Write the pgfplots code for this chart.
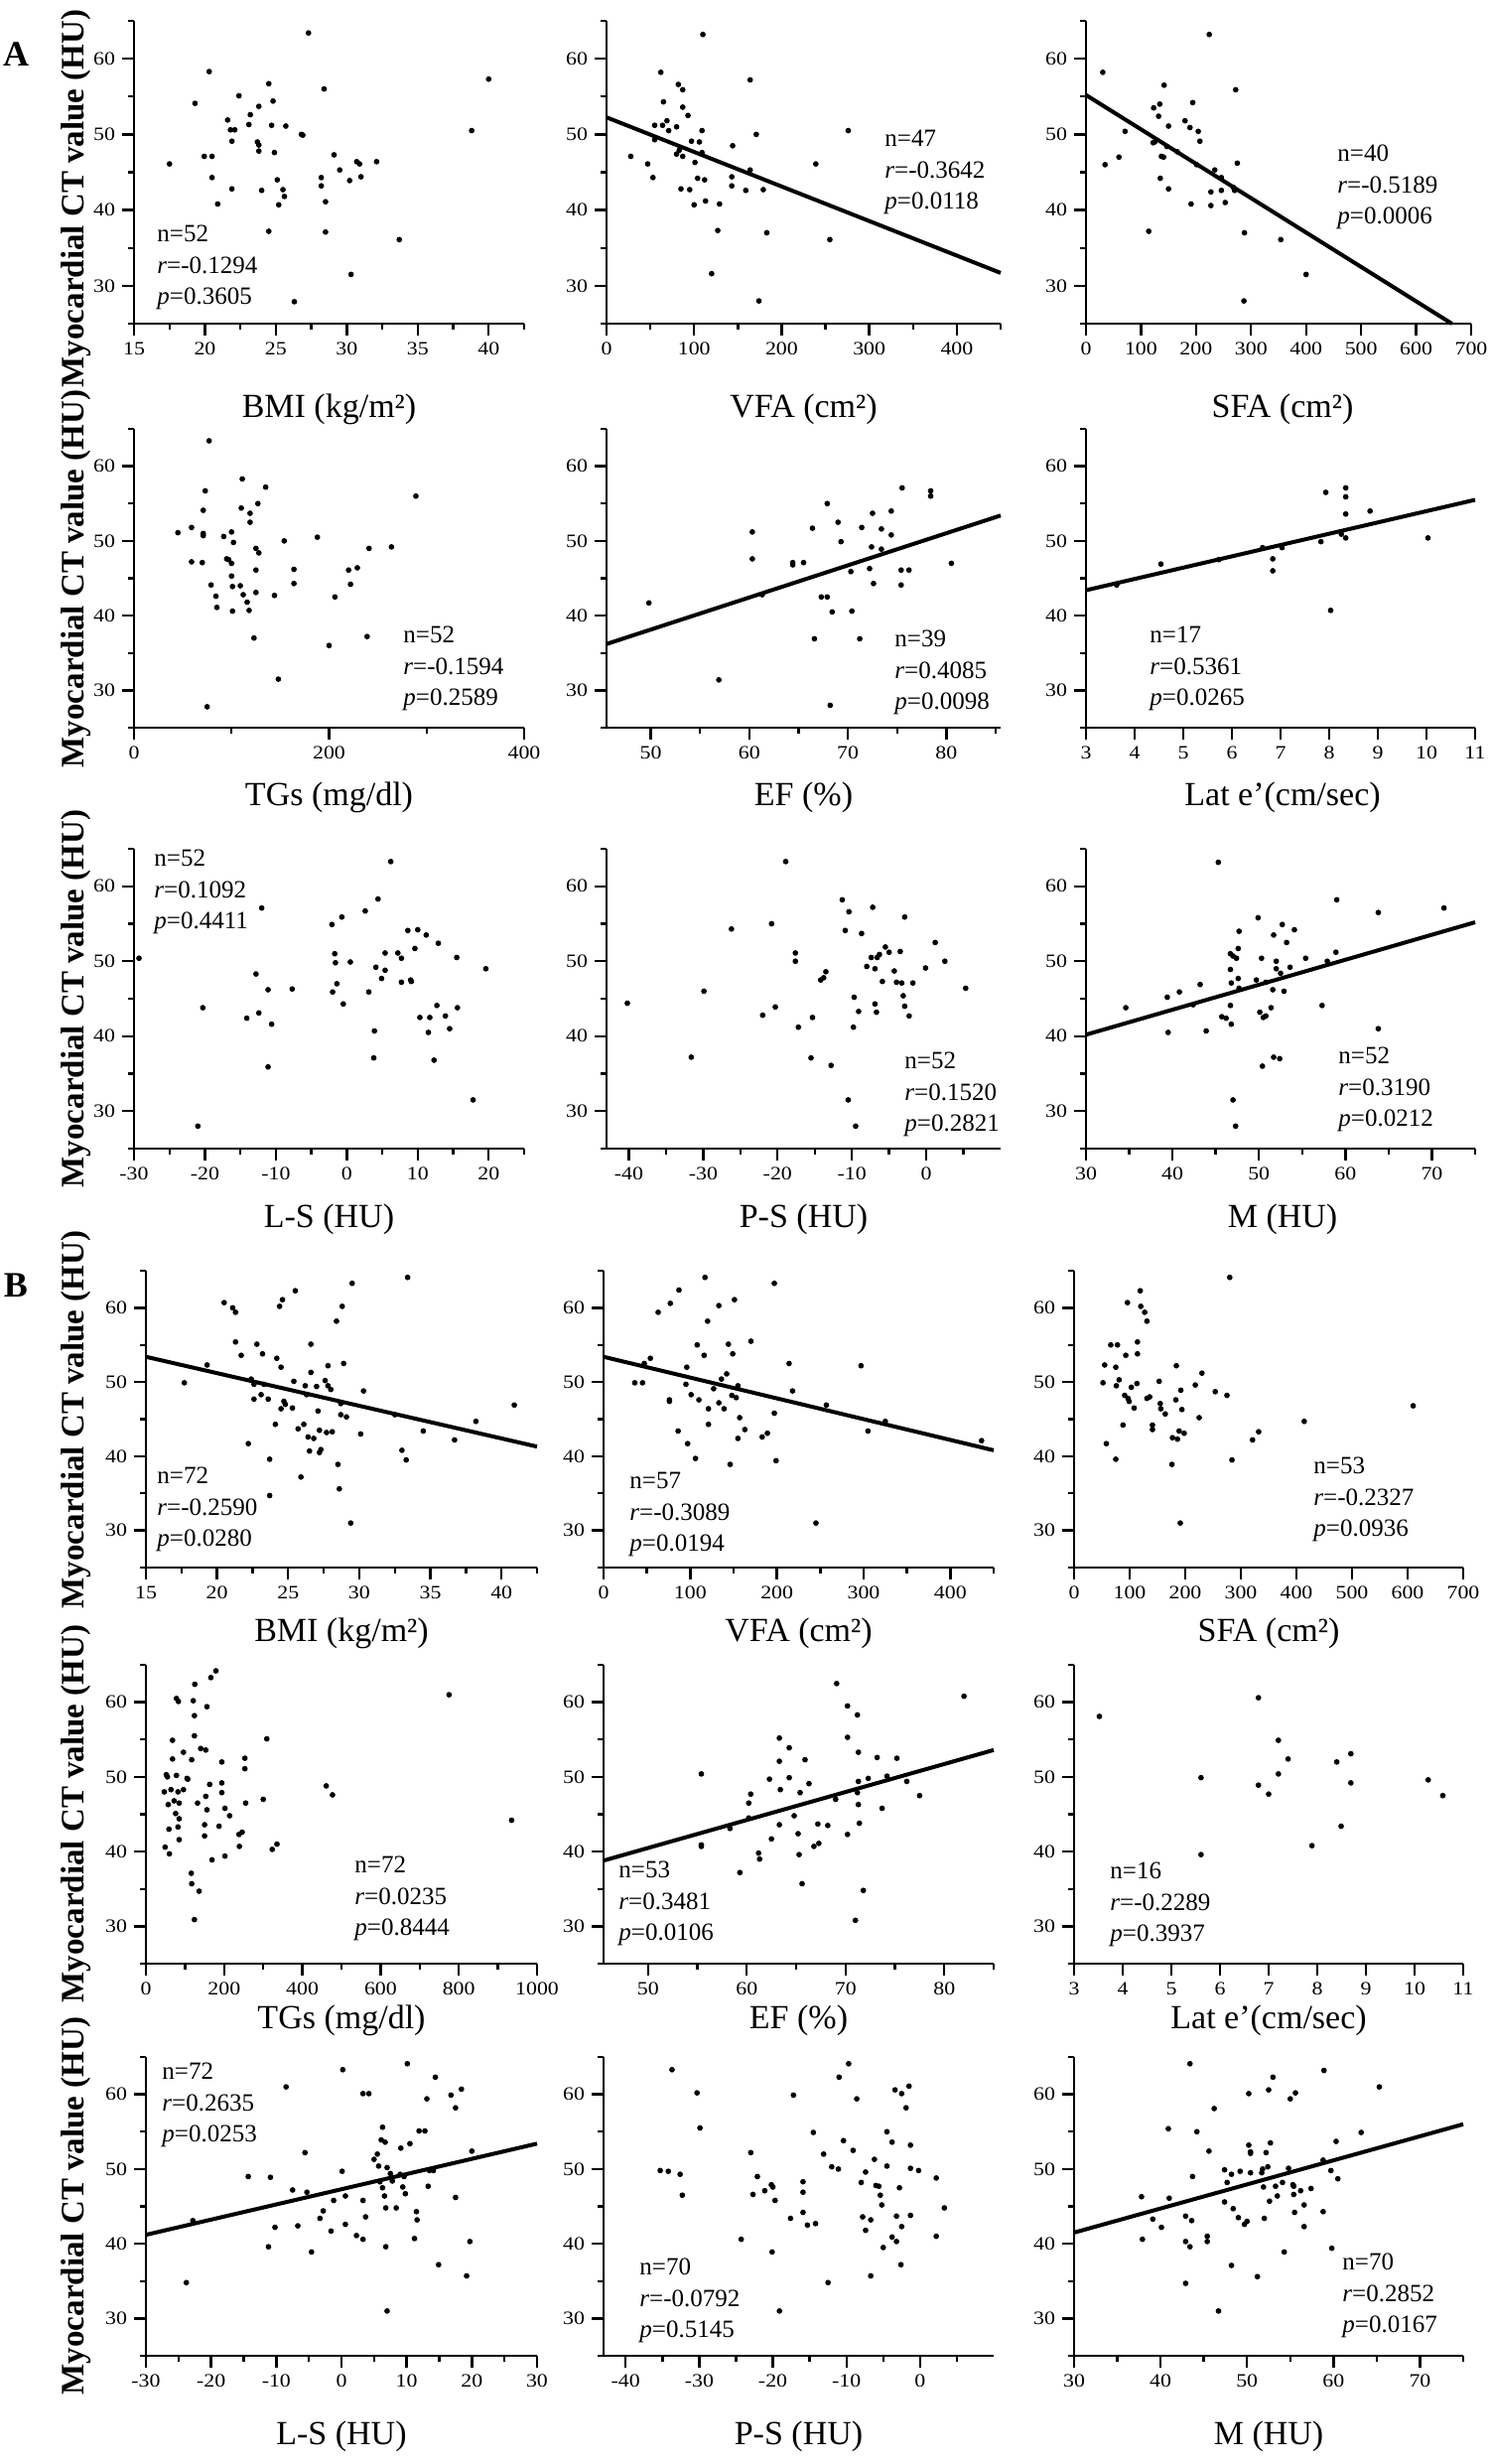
\documentclass[border=0pt]{standalone}
\usepackage{pgfplots}
\pgfplotsset{compat=1.18}
\usepackage{fontspec}
\setmainfont{Liberation Serif}
\usepackage{graphicx}

\pgfplotsset{
  panel/.style={
    scale only axis,
    anchor=south west,
    ymin=25, ymax=65,
    ytick={30,40,50,60},
    minor ytick={25,35,45,55,65},
    axis x line*=bottom,
    axis y line*=left,
    axis line style={-, line width=1.3pt, black},
    tick style={black, line width=1.2pt},
    tick align=outside,
    major tick length=6pt,
    minor tick length=3pt,
    tick label style={font=\fontsize{9.5}{10}\selectfont},
    xticklabel={\scalebox{1.15}[1]{\pgfmathprintnumber[assume math mode=true,1000 sep={}]{\tick}}},
    yticklabel={\scalebox{1.15}[1]{\pgfmathprintnumber[assume math mode=true]{\tick}}},
    clip=false,
  },
  pts/.style={only marks, mark=*, mark size=1.2pt, black},
  fit/.style={no marks, black, line width=2pt},
}
\tikzset{
  st/.style={anchor=mid west, inner sep=0pt, font=\fontsize{12.5}{13}\selectfont},
  xl/.style={inner sep=0pt, font=\fontsize{17}{18}\selectfont},
  yl/.style={inner sep=0pt, rotate=90, font=\fontsize{16.5}{17}\selectfont\bfseries},
}
\newcommand{\stats}[5]{%
  \node[st] at ({#1pt},{#2pt}) {n=#3};
  \node[st] at ({#1pt},{#2pt-15.75pt}) {\textit{r}=#4};
  \node[st] at ({#1pt},{#2pt-31.5pt}) {\textit{p}=#5};
}

\begin{document}
\begin{tikzpicture}
\useasboundingbox (0,0) rectangle (751pt,-1241pt);

% ================= A row 1 =================
\begin{axis}[panel, at={(67.5pt,-163pt)}, width=196.5pt, height=152.5pt,
  xmin=15, xmax=42.5, xtick={15,20,...,40}, minor xtick={17.5,22.5,...,42.5}]
\addplot[pts] coordinates {(17.5,46.1)(19.3,54.1)(20.3,58.3)(19.95,47.1)(20.5,47.1)(20.5,44.3)(20.9,40.8)(21.9,42.8)(21.6,51.9)(21.8,50.6)(22.1,50.6)(21.9,49.1)(22.4,55.1)(23.2,52.6)(23.1,51.3)(23.8,53.7)(23.7,49.0)(23.8,48.6)(23.8,47.8)(24.0,42.6)(24.5,56.7)(24.8,54.4)(24.7,51.2)(24.9,47.6)(24.5,37.2)(25.1,44.0)(25.2,40.7)(25.5,42.7)(25.6,41.8)(25.7,51.1)(26.3,27.9)(26.8,50.0)(26.9,49.9)(27.3,63.4)(28.2,44.3)(28.2,43.2)(28.4,56.0)(28.5,41.1)(28.5,37.1)(29.1,47.3)(29.5,45.3)(30.2,43.9)(30.7,46.4)(30.9,46.1)(31.0,44.4)(30.3,31.5)(32.1,46.4)(33.7,36.1)(38.8,50.5)(40.0,57.3)};
\end{axis}

\begin{axis}[panel, at={(305.5pt,-163pt)}, width=198.5pt, height=152.5pt,
  xmin=0, xmax=450, xtick={0,100,...,400}, minor xtick={50,150,...,450}]
\addplot[pts] coordinates {(27.7,47.1)(47,46.1)(53,44.3)(55,51.2)(55,49.3)(62,58.2)(65,54.3)(64,51.2)(69,51.8)(71,50.5)(80,51.0)(82,56.6)(87,55.9)(87,53.6)(93,52.5)(80,47.4)(83,47.9)(87,47.1)(85,42.8)(95,42.7)(97,49.1)(101,46.3)(100,40.7)(104,44.2)(106,49.0)(109,47.6)(110,63.2)(109,50.5)(112,44.0)(113,41.2)(120,31.6)(129,40.8)(127,37.3)(144,48.5)(143,44.4)(143,43.2)(159,42.6)(164,45.3)(164,57.2)(171,50.0)(179,42.7)(183,37.0)(174,28.0)(239,46.1)(255,36.1)(276,50.5)};
\addplot[fit] coordinates {(0,52.25)(450,31.7)};
\end{axis}

\begin{axis}[panel, at={(547pt,-163pt)}, width=194pt, height=152.5pt,
  xmin=0, xmax=700, xtick={0,100,...,700}]
\addplot[pts] coordinates {(30.5,58.2)(34.6,46.0)(59.9,47.0)(71,50.4)(114,37.2)(123,53.5)(134,54.0)(132,52.4)(142,56.5)(150,51.1)(122,48.9)(125,49.0)(137,47.1)(141,47.0)(135,44.2)(150,42.8)(147,48.4)(166,47.7)(180,51.8)(189,50.9)(194,54.2)(204,50.4)(207,49.1)(191,40.8)(201,46.0)(224,63.2)(227,42.4)(227,40.6)(234,45.3)(246,44.3)(246,42.6)(253,41.0)(270,42.6)(272,55.9)(275,46.2)(288,37.0)(287,28.0)(354,36.1)(400,31.5)(268,43.0)};
\addplot[fit] coordinates {(0,55.2)(665,25.0)};
\end{axis}

% ================= A row 2 =================
\begin{axis}[panel, at={(67.5pt,-366.5pt)}, width=196.5pt, height=150.5pt,
  xmin=0, xmax=400, xtick={0,200,400}, minor xtick={100,300}]
\addplot[pts] coordinates {(45,51.1)(59,51.8)(59,47.2)(70,47.1)(71,51.0)(71,50.7)(71,54.1)(73,56.7)(77,63.4)(79,44.1)(84,42.6)(85,41.1)(92,50.6)(95,47.6)(97,47.5)(100,47.0)(100,45.3)(100,51.2)(102,49.8)(101,43.9)(101,40.6)(109,44.0)(111,58.3)(110,54.4)(112,42.8)(116,41.8)(118,40.7)(119,53.7)(119,52.5)(123,37.0)(125,46.1)(125,49.0)(127,55.0)(128,48.4)(125,43.1)(135,57.2)(144,42.7)(148,31.5)(154,50.0)(164,46.2)(164,44.3)(188,50.5)(200,36.0)(206,42.5)(220,46.1)(222,44.2)(229,46.4)(239,37.2)(241,49.0)(264,49.2)(289,56.0)(75,27.8)};
\end{axis}

\begin{axis}[panel, at={(305.5pt,-366.5pt)}, width=198.5pt, height=150.5pt,
  xmin=45.5, xmax=85.5, xtick={50,60,70,80}, minor xtick={55,65,75,85}]
\addplot[pts] coordinates {(49.8,41.7)(56.9,31.4)(60.3,51.2)(60.3,47.6)(61.3,42.8)(64.4,47.1)(64.4,46.8)(65.5,47.1)(66.4,51.7)(66.6,36.9)(67.3,42.5)(67.9,42.5)(67.9,55.0)(68.4,40.5)(69.0,52.5)(69.3,49.9)(70.3,45.9)(70.4,40.6)(71.2,36.9)(71.4,51.8)(72.2,46.3)(72.4,49.2)(72.5,53.7)(72.6,44.3)(73.4,51.6)(73.4,48.9)(74.4,54.0)(74.4,50.8)(75.5,57.1)(75.4,46.1)(75.4,44.1)(76.2,46.1)(78.4,56.7)(78.4,56.0)(80.5,47.0)(68.2,28.0)};
\addplot[fit] coordinates {(45.5,36.2)(85.5,53.4)};
\end{axis}

\begin{axis}[panel, at={(547pt,-366.5pt)}, width=196pt, height=150.5pt,
  xmin=3, xmax=11, xtick={3,4,...,11}]
\addplot[pts] coordinates {(3.63,44.1)(4.54,46.9)(5.73,47.5)(6.63,49.1)(6.84,47.6)(6.84,46.0)(7.03,49.1)(7.83,49.9)(7.93,56.5)(8.03,40.7)(8.25,50.9)(8.34,50.4)(8.34,53.6)(8.34,55.9)(8.34,57.1)(8.84,54.0)(10.03,50.4)};
\addplot[fit] coordinates {(3,43.4)(11,55.5)};
\end{axis}

% ================= A row 3 =================
\begin{axis}[panel, at={(67.5pt,-578.5pt)}, width=196.5pt, height=151pt,
  xmin=-30, xmax=25, xtick={-30,-20,...,20}, minor xtick={-25,-15,...,25}]
\addplot[pts] coordinates {(-29.3,50.4)(-20.3,43.8)(-14.1,42.4)(-12.8,48.3)(-12.0,57.1)(-12.4,43.1)(-11.1,46.2)(-10.6,41.6)(-11.1,35.9)(-7.7,46.3)(-2.1,54.9)(-1.7,51.0)(-1.6,49.8)(-2.0,45.9)(-1.4,47.0)(-0.7,55.9)(-0.5,44.3)(0.5,49.9)(3.1,45.9)(2.6,56.7)(3.9,40.7)(3.8,37.1)(4.4,58.3)(4.1,49.2)(4.9,47.7)(5.4,51.1)(5.4,48.8)(6.2,63.3)(7.2,51.1)(7.7,50.4)(7.7,47.2)(9.0,47.5)(9.1,47.3)(8.6,54.1)(9.6,51.7)(10.0,54.2)(11.2,53.5)(10.3,42.5)(11.7,42.5)(11.5,40.5)(12.3,36.8)(12.9,52.4)(12.7,44.1)(13.9,42.7)(14.5,41.0)(15.5,50.5)(15.6,43.8)(19.6,49.0)(-21,28.0)(17.8,31.5)};
\end{axis}

\begin{axis}[panel, at={(305.5pt,-578.5pt)}, width=198.5pt, height=151pt,
  xmin=-43, xmax=10, xtick={-40,-30,...,0}, minor xtick={-35,-25,...,5}]
\addplot[pts] coordinates {(-40.2,44.4)(-31.6,37.2)(-29.9,46.0)(-26.2,54.3)(-22.0,42.8)(-20.8,55.0)(-20.3,43.9)(-18.9,63.3)(-17.2,41.2)(-17.6,51.1)(-17.6,50.0)(-15.5,37.1)(-15.3,42.5)(-14.2,47.5)(-13.5,48.6)(-13.8,47.8)(-12.8,36.1)(-11.3,58.2)(-10.9,54.1)(-10.4,56.6)(-9.8,41.2)(-9.1,43.3)(-9.7,45.2)(-8.7,53.7)(-8.0,49.3)(-7.4,50.5)(-6.9,49.0)(-6.9,44.3)(-6.7,43.2)(-7.2,57.2)(-6.6,50.5)(-6.3,50.9)(-5.9,47.3)(-5.5,51.9)(-5.0,51.2)(-4.3,48.7)(-4.0,47.2)(-3.5,51.3)(-3.3,47.1)(-3.1,45.4)(-2.9,44.0)(-2.9,55.9)(-2.3,42.7)(-1.8,47.1)(-0.1,49.1)(1.2,52.5)(2.5,50.0)(5.3,46.4)(-10.5,31.5)(-9.5,28.0)};
\end{axis}

\begin{axis}[panel, at={(547pt,-578.5pt)}, width=196pt, height=151pt,
  xmin=30, xmax=75, xtick={30,40,...,70}, minor xtick={35,45,...,75}]
\addplot[pts] coordinates {(34.6,43.8)(39.4,45.2)(39.5,40.5)(40.8,45.9)(42.4,44.2)(43.2,46.9)(43.9,40.7)(45.3,63.2)(45.7,42.6)(46.2,42.4)(46.8,41.6)(46.7,44.1)(46.7,48.9)(46.7,51.0)(47.0,50.7)(46.8,47.1)(47.4,50.4)(47.6,51.7)(47.7,54.0)(47.6,47.7)(47.7,46.4)(49.9,55.8)(49.7,47.5)(50.1,43.2)(50.3,50.4)(50.5,42.5)(50.8,42.7)(50.8,47.2)(51.4,43.8)(51.6,46.2)(51.7,53.5)(52.0,50.0)(52.0,49.0)(52.5,48.4)(52.9,46.0)(51.7,37.2)(52.4,37.0)(52.7,54.9)(53.2,52.5)(53.6,49.2)(54.1,54.2)(55.4,50.4)(57.3,44.1)(57.9,50.0)(58.9,51.2)(59.0,58.2)(63.8,56.5)(63.8,41.0)(71.4,57.1)(50.4,36.0)(47.0,31.5)(47.3,28.0)};
\addplot[fit] coordinates {(30,40.2)(75,55.2)};
\end{axis}

% ================= B row 1 =================
\begin{axis}[panel, at={(73.5pt,-789.5pt)}, width=197pt, height=149.5pt,
  xmin=15, xmax=42.5, xtick={15,20,...,40}, minor xtick={17.5,22.5,...,42.5}]
\addplot[pts] coordinates {(17.7,49.9)(19.3,52.3)(20.5,60.7)(21.1,60.0)(21.3,59.4)(21.3,55.4)(21.7,53.6)(22.2,41.7)(22.4,50.4)(22.6,49.7)(22.6,47.7)(22.8,55.1)(23.1,48.3)(23.2,53.8)(23.3,49.7)(23.6,47.7)(23.7,39.6)(23.7,34.7)(24.1,44.3)(24.2,53.2)(24.5,52.0)(24.5,46.4)(24.4,60.2)(24.6,61.1)(24.7,47.4)(24.8,47.0)(25.3,46.5)(25.4,50.1)(25.5,62.3)(25.7,43.7)(25.9,37.2)(26.1,44.3)(26.2,49.5)(26.3,48.3)(26.4,42.6)(26.5,40.7)(26.6,55.1)(26.6,51.3)(26.8,42.4)(27.0,49.4)(27.1,46.1)(27.2,43.5)(27.2,40.5)(27.3,40.9)(27.7,43.2)(27.6,50.2)(27.8,52.2)(27.8,49.5)(28.0,49.0)(28.1,43.3)(28.4,58.2)(28.5,38.9)(28.6,35.6)(28.7,47.1)(28.7,45.6)(28.8,60.2)(28.9,52.5)(29.1,45.3)(29.4,31.0)(29.5,63.3)(30.1,43.0)(30.3,48.8)(32.5,45.6)(33.0,40.8)(33.3,39.5)(33.4,64.1)(34.5,43.4)(36.7,42.2)(38.2,44.7)(40.9,46.9)};
\addplot[fit] coordinates {(15,53.4)(42.5,41.3)};
\end{axis}

\begin{axis}[panel, at={(304pt,-789.5pt)}, width=196.5pt, height=149.5pt,
  xmin=0, xmax=450, xtick={0,100,...,400}, minor xtick={50,150,...,450}]
\addplot[pts] coordinates {(36,49.9)(45,49.9)(47,52.5)(54,53.2)(63,59.4)(77,60.6)(87,62.4)(76,47.6)(76,47.4)(86,43.4)(96,52.0)(95,49.7)(97,41.7)(101,48.3)(106,39.7)(108,55.0)(110,47.6)(116,53.6)(117,64.1)(120,58.2)(121,46.4)(121,44.3)(127,49.1)(133,60.3)(133,47.2)(136,50.4)(139,46.4)(142,51.1)(144,55.1)(146,38.9)(148,48.2)(149,53.8)(151,61.1)(153,47.9)(155,49.5)(157,45.2)(155,42.4)(163,43.6)(170,55.5)(183,42.6)(189,43.1)(197,63.3)(197,45.8)(199,39.4)(214,52.5)(218,48.8)(257,46.9)(245,31.0)(297,52.2)(305,43.4)(325,44.7)(436,42.1)};
\addplot[fit] coordinates {(0,53.4)(450,40.8)};
\end{axis}

\begin{axis}[panel, at={(541pt,-789.5pt)}, width=196pt, height=149.5pt,
  xmin=0, xmax=700, xtick={0,100,...,700}]
\addplot[pts] coordinates {(52,49.9)(55,52.3)(58,41.7)(66,55.0)(75,39.6)(75,52.0)(76,49.5)(78,55.0)(81,50.3)(88,44.2)(91,48.2)(93,53.6)(96,60.7)(97,47.8)(99,47.4)(103,49.3)(108,46.5)(113,49.8)(114,53.8)(114,55.4)(119,62.3)(120,60.2)(127,59.4)(131,58.2)(131,47.8)(136,48.0)(141,44.2)(141,43.6)(153,50.1)(155,47.1)(156,46.4)(164,45.7)(176,38.9)(177,42.5)(183,47.6)(184,52.2)(186,42.3)(189,43.4)(191,31.0)(192,48.9)(194,46.3)(198,43.1)(218,49.6)(225,45.2)(230,51.2)(254,48.7)(275,48.2)(280,64.1)(284,39.5)(321,42.2)(332,43.3)(414,44.7)(610,46.8)};
\end{axis}

% ================= B row 2 =================
\begin{axis}[panel, at={(73.5pt,-989pt)}, width=197pt, height=150.5pt,
  xmin=0, xmax=1000, xtick={0,200,...,1000}, minor xtick={100,300,...,900}]
\addplot[pts] coordinates {(47,48.0)(49,40.6)(52,50.3)(55,50.0)(57,46.3)(59,43.0)(60,39.7)(64,48.3)(68,54.9)(68,52.4)(72,46.8)(76,45.1)(78,60.5)(78,50.2)(82,48.0)(83,60.1)(82,43.3)(85,41.6)(85,44.4)(85,46.5)(96,53.3)(96,48.3)(105,49.8)(107,49.7)(117,52.3)(116,37.1)(117,35.7)(121,60.2)(124,58.2)(124,55.5)(124,30.9)(125,62.4)(132,46.5)(136,34.7)(140,53.8)(150,42.1)(150,43.6)(153,53.6)(156,45.6)(156,59.4)(153,47.4)(163,49.0)(166,63.3)(169,38.9)(179,64.2)(187,43.4)(194,52.0)(194,49.2)(194,47.9)(202,39.4)(202,45.8)(214,44.8)(238,42.3)(239,40.7)(246,42.6)(253,52.5)(253,51.1)(255,46.5)(300,47.0)(309,55.1)(323,40.3)(335,41.0)(461,48.8)(477,47.6)(775,61.0)(935,44.2)};
\end{axis}

\begin{axis}[panel, at={(304pt,-989pt)}, width=196.5pt, height=150.5pt,
  xmin=45.5, xmax=85, xtick={50,60,70,80}, minor xtick={55,65,75,85}]
\addplot[pts] coordinates {(55.4,50.4)(55.4,40.9)(55.4,40.7)(58.3,43.1)(59.3,37.2)(60.2,46.5)(60.4,47.7)(61.2,39.8)(61.3,39.0)(60.2,44.5)(62.3,49.7)(62.5,41.7)(63.3,52.1)(63.3,55.2)(63.4,48.3)(63.3,43.6)(64.3,49.9)(64.3,53.9)(64.8,44.8)(65.2,42.4)(65.3,39.6)(65.4,47.9)(65.6,35.7)(65.9,52.3)(66.3,49.1)(66.8,40.7)(67.2,43.7)(67.3,41.1)(68.2,43.5)(69.0,47.0)(69.1,62.5)(70.2,55.3)(70.2,59.5)(70.2,42.3)(71.0,30.8)(71.2,47.9)(71.2,58.3)(71.3,46.3)(71.3,53.3)(71.4,43.8)(71.8,34.8)(71.3,49.4)(73.2,52.6)(73.7,45.8)(72.3,49.8)(74.2,50.1)(75.2,52.5)(76.2,49.4)(77.5,47.5)(82.0,60.8)};
\addplot[fit] coordinates {(45.5,38.8)(85,53.6)};
\end{axis}

\begin{axis}[panel, at={(541pt,-989pt)}, width=196pt, height=150.5pt,
  xmin=3, xmax=11, xtick={3,4,...,11}]
\addplot[pts] coordinates {(3.52,58.1)(5.61,49.9)(5.61,39.6)(6.79,60.6)(6.79,48.9)(7.00,47.7)(7.20,54.9)(7.20,50.4)(7.40,52.4)(7.89,40.8)(8.40,52.0)(8.49,43.4)(8.69,53.1)(8.69,49.2)(10.28,49.6)(10.58,47.5)};
\end{axis}

% ================= B row 3 =================
\begin{axis}[panel, at={(73.5pt,-1186.5pt)}, width=197pt, height=150.5pt,
  xmin=-30, xmax=30, xtick={-30,-20,...,30}, minor xtick={-25,-15,...,25}]
\addplot[pts] coordinates {(-23.8,34.8)(-22.8,43.1)(-14.3,49.0)(-11.2,39.6)(-10.9,48.9)(-10.2,42.2)(-8.5,61.0)(-7.5,47.2)(-6.7,42.4)(-5.6,52.2)(-5.3,46.9)(-4.6,38.9)(-3.3,43.4)(-2.8,44.4)(-1.6,41.7)(-1.2,45.8)(0.1,49.7)(0.2,63.3)(0.6,46.4)(0.6,42.6)(2.3,41.1)(3.3,60.1)(3.3,45.8)(3.3,40.6)(4.2,60.1)(3.7,43.6)(5.0,51.3)(5.5,52.0)(5.7,50.4)(5.9,48.3)(6.1,53.9)(6.3,55.6)(6.6,46.4)(6.7,53.6)(6.8,44.8)(6.8,39.6)(7.0,31.0)(7.5,49.4)(7.8,48.4)(8.4,44.8)(9.0,49.3)(9.1,52.8)(9.4,47.6)(9.6,49.0)(9.8,46.7)(10.1,64.1)(10.5,53.4)(11.2,40.7)(11.5,44.3)(11.6,43.2)(11.9,55.1)(12.8,55.1)(13.1,59.4)(13.3,47.7)(13.5,49.8)(14.1,49.8)(14.4,62.3)(14.9,37.2)(16.8,59.9)(17.5,46.2)(17.5,58.2)(18.4,60.7)(19.2,35.7)(19.7,40.3)(20.0,52.4)(6.3,47.5)(7.0,50.2)};
\addplot[fit] coordinates {(-30,41.2)(30,53.4)};
\end{axis}

\begin{axis}[panel, at={(304pt,-1186.5pt)}, width=196.5pt, height=150.5pt,
  xmin=-43, xmax=10, xtick={-40,-30,...,0}, minor xtick={-35,-25,...,5}]
\addplot[pts] coordinates {(-35.3,49.8)(-34.2,49.7)(-33.7,63.3)(-32.6,49.3)(-32.3,46.5)(-30.3,60.2)(-29.9,55.5)(-24.3,40.6)(-23.0,52.2)(-22.7,46.6)(-22.1,49.0)(-21.1,47.1)(-20.2,47.9)(-20.0,47.6)(-20.1,38.9)(-19.7,45.8)(-19.1,31.0)(-17.6,43.4)(-17.2,59.9)(-15.9,48.3)(-15.9,46.9)(-15.9,44.2)(-15.3,42.5)(-14.5,54.9)(-14.2,42.7)(-13.1,52.0)(-12.5,34.8)(-12.0,50.3)(-11.1,50.0)(-11.0,62.3)(-10.4,53.8)(-9.7,64.1)(-9.1,52.5)(-8.6,59.4)(-8.0,48.2)(-7.8,43.6)(-7.4,49.6)(-7.4,41.8)(-6.7,35.7)(-6.7,43.2)(-6.2,51.3)(-6.0,47.8)(-5.6,47.7)(-5.4,46.5)(-5.2,45.2)(-5.0,39.5)(-4.5,55.0)(-4.5,50.4)(-3.8,53.6)(-3.8,40.9)(-3.4,60.6)(-3.2,43.7)(-3.2,40.3)(-2.8,47.5)(-2.6,37.2)(-2.5,60.1)(-2.5,42.3)(-1.9,58.2)(-1.5,61.1)(-1.3,53.2)(-1.3,50.1)(-1.3,43.8)(-0.2,49.8)(2.2,48.8)(2.2,41.0)(3.3,44.8)};
\end{axis}

\begin{axis}[panel, at={(541pt,-1186.5pt)}, width=196pt, height=150.5pt,
  xmin=30, xmax=75, xtick={30,40,...,70}, minor xtick={35,45,...,75}]
\addplot[pts] coordinates {(37.8,46.3)(37.9,40.6)(39.1,43.3)(40.1,42.2)(40.9,55.4)(41.0,46.1)(42.9,43.7)(42.9,34.7)(42.9,40.3)(43.4,64.1)(43.4,39.6)(43.6,43.1)(43.7,49.0)(44.2,55.0)(45.4,40.3)(45.4,41.0)(45.6,52.4)(46.2,58.1)(46.7,31.0)(47.4,49.9)(47.4,45.6)(47.7,48.2)(48.2,37.1)(48.2,49.3)(48.4,44.7)(49.0,43.5)(49.2,49.7)(49.7,42.6)(50.0,43.0)(50.2,53.2)(50.4,52.1)(50.4,52.3)(50.2,60.1)(50.4,49.5)(51.2,35.6)(51.7,49.5)(51.8,50.0)(51.9,47.6)(52.0,43.4)(52.2,52.2)(52.4,50.3)(52.5,60.6)(52.6,45.7)(52.7,53.5)(53.0,62.3)(53.3,47.7)(53.5,46.4)(54.1,48.2)(54.3,38.9)(54.8,50.1)(55.0,59.4)(55.3,47.9)(55.4,46.6)(55.4,47.7)(55.5,44.2)(55.6,60.2)(56.2,47.1)(56.6,42.3)(56.6,45.2)(57.4,47.4)(58.8,51.2)(58.8,44.3)(58.9,63.2)(59.7,49.8)(59.8,39.4)(60.3,53.7)(60.5,48.7)(63.2,54.9)(65.3,61.0)};
\addplot[fit] coordinates {(30,41.5)(75,56.0)};
\end{axis}

% ================= labels =================
\node[font=\fontsize{18}{19}\selectfont\bfseries, inner sep=0pt] at (8pt,-27.5pt) {A};
\node[font=\fontsize{18}{19}\selectfont\bfseries, inner sep=0pt] at (8pt,-647.5pt) {B};

\node[yl] at (38.5pt,-100pt) {Myocardial CT value (HU)};
\node[yl] at (38.5pt,-291.5pt) {Myocardial CT value (HU)};
\node[yl] at (38.5pt,-503pt) {Myocardial CT value (HU)};
\node[yl] at (38.5pt,-715pt) {Myocardial CT value (HU)};
\node[yl] at (38.5pt,-913.5pt) {Myocardial CT value (HU)};
\node[yl] at (38.5pt,-1111pt) {Myocardial CT value (HU)};

\node[xl] at (165.75pt,-206pt) {BMI (kg/m²)};
\node[xl] at (404.75pt,-206pt) {VFA (cm²)};
\node[xl] at (646pt,-206pt) {SFA (cm²)};
\node[xl] at (165.75pt,-401.5pt) {TGs (mg/dl)};
\node[xl] at (404.75pt,-401.5pt) {EF (\%)};
\node[xl] at (646pt,-401.5pt) {Lat e’(cm/sec)};
\node[xl] at (165.75pt,-614pt) {L-S (HU)};
\node[xl] at (404.75pt,-614pt) {P-S (HU)};
\node[xl] at (646pt,-614pt) {M (HU)};
\node[xl] at (172pt,-822.5pt) {BMI (kg/m²)};
\node[xl] at (402.25pt,-822.5pt) {VFA (cm²)};
\node[xl] at (639pt,-822.5pt) {SFA (cm²)};
\node[xl] at (172pt,-1017.5pt) {TGs (mg/dl)};
\node[xl] at (402.25pt,-1017.5pt) {EF (\%)};
\node[xl] at (639pt,-1017.5pt) {Lat e’(cm/sec)};
\node[xl] at (172pt,-1227pt) {L-S (HU)};
\node[xl] at (402.25pt,-1227pt) {P-S (HU)};
\node[xl] at (639pt,-1227pt) {M (HU)};

% ================= statistics =================
\stats{79}{-119.5}{52}{-0.1294}{0.3605}
\stats{445.5}{-71.5}{47}{-0.3642}{0.0118}
\stats{673.5}{-79}{40}{-0.5189}{0.0006}
\stats{203}{-321.5}{52}{-0.1594}{0.2589}
\stats{450.5}{-323.5}{39}{0.4085}{0.0098}
\stats{579}{-321.5}{17}{0.5361}{0.0265}
\stats{77.5}{-434}{52}{0.1092}{0.4411}
\stats{455.5}{-536}{52}{0.1520}{0.2821}
\stats{674}{-533.5}{52}{0.3190}{0.0212}
\stats{79}{-745}{72}{-0.2590}{0.0280}
\stats{317}{-747.5}{57}{-0.3089}{0.0194}
\stats{661.5}{-740}{53}{-0.2327}{0.0936}
\stats{178.5}{-941}{72}{0.0235}{0.8444}
\stats{311.5}{-943.5}{53}{0.3481}{0.0106}
\stats{559}{-944}{16}{-0.2289}{0.3937}
\stats{81.5}{-1045}{72}{0.2635}{0.0253}
\stats{322}{-1143.5}{70}{-0.0792}{0.5145}
\stats{676}{-1141}{70}{0.2852}{0.0167}
\end{tikzpicture}
\end{document}
